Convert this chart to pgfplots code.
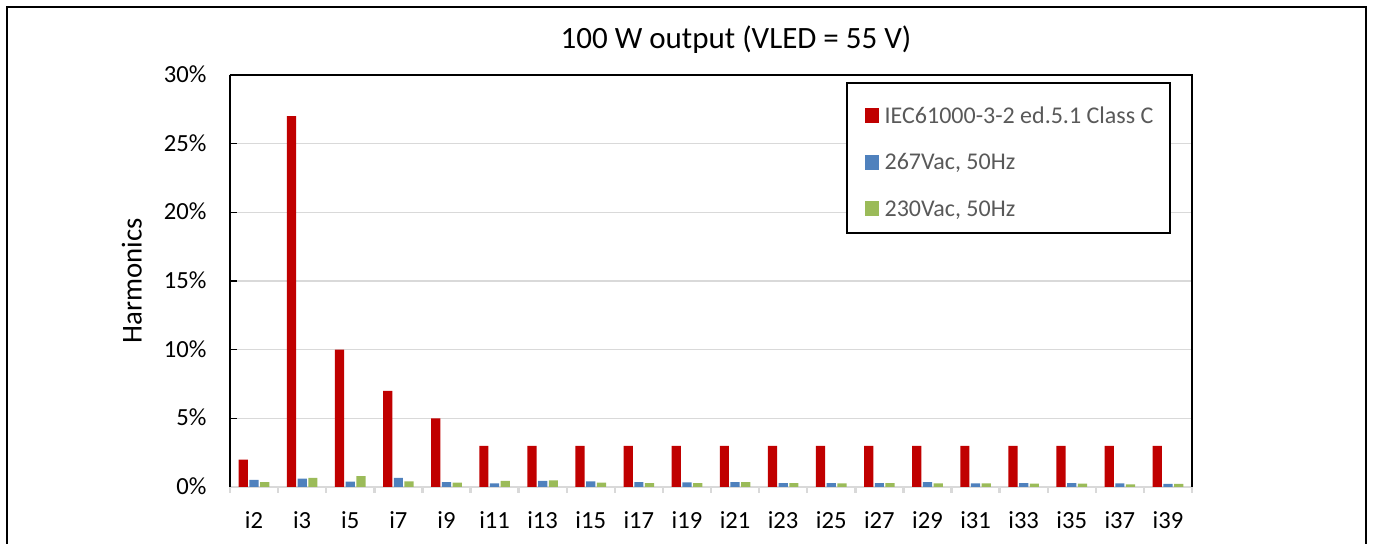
\documentclass[border=0pt]{standalone}
\usepackage{pgfplots}
\pgfplotsset{compat=1.18}
\usepackage{fontspec}
\setmainfont{Carlito}
\definecolor{cred}{HTML}{C00000}
\definecolor{cblue}{HTML}{4F81BD}
\definecolor{cgreen}{HTML}{9BBB59}
\definecolor{cgrid}{HTML}{D9D9D9}
\definecolor{ctext}{HTML}{595959}
\begin{document}
\begin{tikzpicture}
\path[use as bounding box] (-115pt,-28.5pt) rectangle (572.5pt,243.5pt);
\draw[line width=1.3pt] (-111.5pt,-40pt) -- (-111.5pt,240pt) -- (568pt,240pt) -- (568pt,-40pt);
\begin{axis}[
  at={(0pt,0pt)}, anchor=south west,
  scale only axis, width=481pt, height=206pt,
  xmin=-0.5, xmax=19.5, ymin=0, ymax=30,
  axis x line*=bottom, axis y line*=left,
  x axis line style={-, cgrid, line width=1.2pt},
  y axis line style={-, black, line width=1pt},
  tick align=inside,
  major tick length=3.5pt, minor tick length=3pt,
  xtick={0,...,19},
  xticklabels={i2,i3,i5,i7,i9,i11,i13,i15,i17,i19,i21,i23,i25,i27,i29,i31,i33,i35,i37,i39},
  major x tick style={draw=none},
  minor xtick={-0.5,0.5,...,19.5},
  minor x tick style={cgrid, line width=1.2pt, yshift=-3pt},
  ytick={0,5,...,30},
  yticklabels={0\%,5\%,10\%,15\%,20\%,25\%,30\%},
  major y tick style={black, line width=0.8pt},
  ymajorgrids, major y grid style={cgrid, line width=0.8pt},
  ticklabel style={font=\fontsize{12.3}{14}\selectfont, text=black},
  xticklabel style={anchor=north, inner sep=0pt, text height=8.5pt, text depth=2.5pt, yshift=-12pt},
  yticklabel style={anchor=east, inner sep=0pt, text height=7.6pt, text depth=0pt, xshift=-11.6pt},
  ylabel={Harmonics},
  ylabel style={at={(axis description cs:-0.0918,0.501)}, anchor=base, inner sep=0pt, font=\fontsize{14.4}{17}\selectfont},
  title={100 W output (VLED = 55 V)},
  title style={at={(rel axis cs:0.526,1.034)}, anchor=base, inner sep=0pt, font=\fontsize{15.5}{18}\selectfont},
  legend cell align=left,
  legend image code/.code={\fill[#1] (0pt,-3.75pt) rectangle (7pt,3.75pt);},
  legend style={at={(rel axis cs:0.8098,0.7888)}, anchor=center, draw=none, fill=none,
    inner sep=0pt, row sep=15.55pt, column sep=3pt,
    nodes={inner sep=0pt, text height=7.7pt, text depth=0pt, font=\fontsize{12}{14}\selectfont, text=ctext}},
]
\addplot[ybar, bar width=4.6pt, bar shift=-5.35pt, fill=cred, draw=none] coordinates {
(0,2) (1,27) (2,10) (3,7) (4,5) (5,3) (6,3) (7,3) (8,3) (9,3)
(10,3) (11,3) (12,3) (13,3) (14,3) (15,3) (16,3) (17,3) (18,3) (19,3)};
\addlegendentry{IEC61000-3-2 ed.5.1 Class C}
\addplot[ybar, bar width=4.6pt, bar shift=0pt, fill=cblue, draw=none] coordinates {
(0,0.51) (1,0.61) (2,0.39) (3,0.66) (4,0.36) (5,0.27) (6,0.44) (7,0.41) (8,0.36) (9,0.34)
(10,0.36) (11,0.29) (12,0.29) (13,0.29) (14,0.36) (15,0.27) (16,0.29) (17,0.29) (18,0.27) (19,0.22)};
\addlegendentry{267Vac, 50Hz}
\addplot[ybar, bar width=4.6pt, bar shift=5.35pt, fill=cgreen, draw=none] coordinates {
(0,0.36) (1,0.66) (2,0.80) (3,0.41) (4,0.32) (5,0.44) (6,0.49) (7,0.32) (8,0.29) (9,0.29)
(10,0.36) (11,0.29) (12,0.27) (13,0.29) (14,0.27) (15,0.27) (16,0.24) (17,0.24) (18,0.19) (19,0.22)};
\addlegendentry{230Vac, 50Hz}
\draw[fill=white, line width=1pt] (rel axis cs:0.6414,0.9806) rectangle (rel axis cs:0.9771,0.6165);
\end{axis}
\draw[line width=1pt] (0pt,206pt) -- (481pt,206pt) -- (481pt,0pt);
\end{tikzpicture}
\end{document}
